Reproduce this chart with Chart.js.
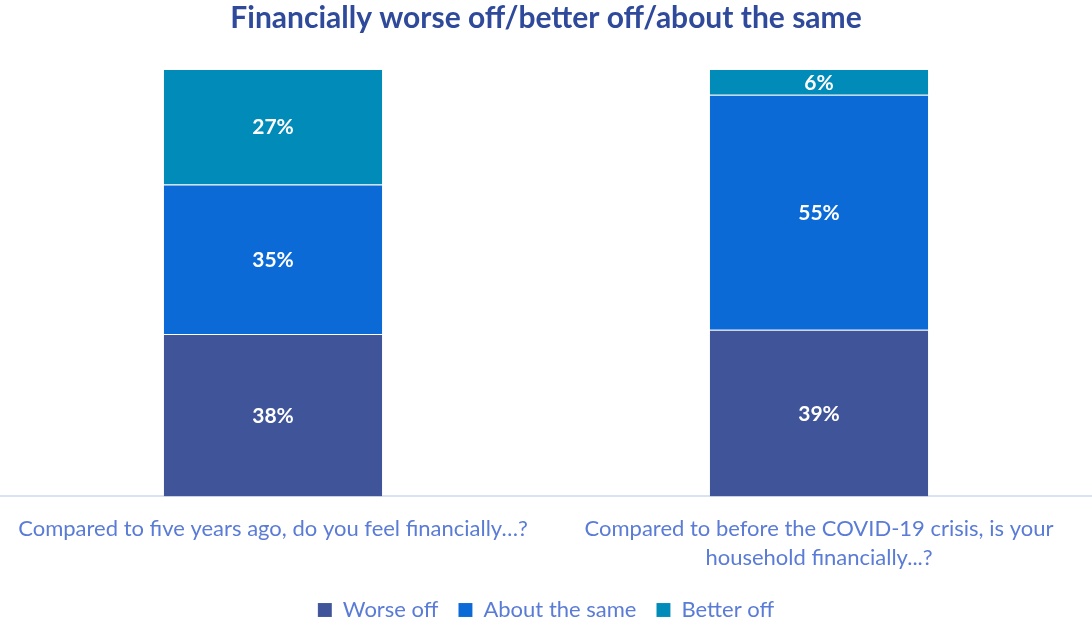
<!DOCTYPE html>
<html>
<head>
<meta charset="utf-8">
<script src="https://cdn.jsdelivr.net/npm/chart.js@4/dist/chart.umd.min.js"></script>
<style>
  html, body { margin: 0; padding: 0; background: #fff; }
  #wrap { width: 1092px; height: 623px; }
</style>
</head>
<body>
<div id="wrap"><canvas id="finChart"></canvas></div>
<script>
const categories = [
  "Compared to five years ago, do you feel financially…?",
  ["Compared to before the COVID-19 crisis, is your", "household financially...?"]
];
const worseOff = [38, 39];
const aboutSame = [35, 55];
const betterOff = [27, 6];

// white percentage labels in the middle of each segment
const segmentLabels = {
  id: "segmentLabels",
  afterDatasetsDraw(chart) {
    const c = chart.ctx;
    c.save();
    c.fillStyle = "#fff";
    c.font = "bold 21px Lato";
    c.textAlign = "center";
    c.textBaseline = "middle";
    chart.data.datasets.forEach((ds, i) => {
      chart.getDatasetMeta(i).data.forEach((bar, j) => {
        const mid = (bar.y + bar.base) / 2;
        c.fillText(ds.data[j] + "%", bar.x, mid + 1);
      });
    });
    c.restore();
  }
};

// push the legend a little closer to the bottom edge
const legendNudge = {
  id: "legendNudge",
  afterLayout(chart) {
    const lg = chart.legend;
    lg.top += 8;
    lg.bottom += 8;
    lg.legendHitBoxes.forEach(b => { b.top += 8; });
  }
};

new Chart(document.getElementById("finChart"), {
  type: "bar",
  data: {
    labels: categories,
    datasets: [
      { label: "Worse off", data: worseOff, backgroundColor: "#3F5499" },
      { label: "About the same", data: aboutSame, backgroundColor: "#0B6AD6" },
      { label: "Better off", data: betterOff, backgroundColor: "#008BB9" }
    ].map(d => Object.assign(d, {
      borderColor: "rgba(255,255,255,0.4)",
      borderWidth: { top: 1 },
      borderSkipped: false,
      categoryPercentage: 0.4,
      barPercentage: 1
    }))
  },
  options: {
    responsive: true,
    maintainAspectRatio: false,
    animation: false,
    layout: { padding: 0 },
    plugins: {
      title: {
        display: true,
        text: "Financially worse off/better off/about the same",
        color: "#2F4A9A",
        font: { family: "Lato", size: 30, weight: "bold" },
        padding: { top: 0, bottom: 33 }
      },
      legend: {
        position: "bottom",
        labels: {
          color: "#5A7BD6",
          font: { family: "Lato", size: 22 },
          boxWidth: 14,
          boxHeight: 14,
          padding: 20,
          useBorderRadius: false
        }
      },
      tooltip: { enabled: false }
    },
    scales: {
      x: {
        stacked: true,
        grid: { display: false },
        border: { color: "#DAE3F3", width: 2 },
        ticks: {
          color: "#5A7BD6",
          font: { family: "Lato", size: 22, lineHeight: 1.33 },
          padding: 10,
          maxRotation: 0,
          autoSkip: false
        },
        afterFit(scale) { scale.height -= 12; }
      },
      y: {
        stacked: true,
        display: false,
        min: 0,
        max: 100
      }
    }
  },
  plugins: [segmentLabels, legendNudge]
});
</script>
</body>
</html>
